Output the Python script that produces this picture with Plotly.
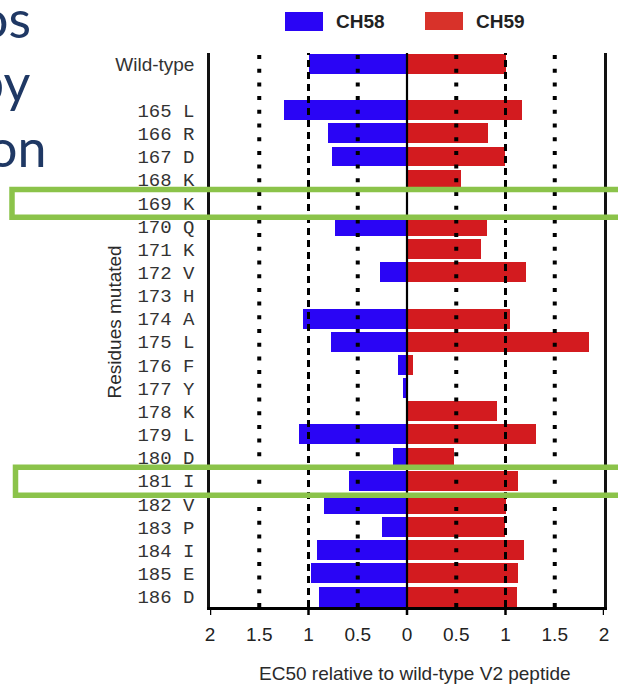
import plotly.graph_objects as go

# Residues of the V2 peptide (wild-type first, then single mutants)
residues = ["Wild-type", "165 L", "166 R", "167 D", "168 K", "169 K", "170 Q",
            "171 K", "172 V", "173 H", "174 A", "175 L", "176 F", "177 Y",
            "178 K", "179 L", "180 D", "181 I", "182 V", "183 P", "184 I",
            "185 E", "186 D"]

# EC50 relative to wild-type V2 peptide
ch58 = [1.00, 1.25, 0.80, 0.76, 0.00, 0.00, 0.73, 0.00, 0.27, 0.00, 1.06,
        0.77, 0.09, 0.04, 0.00, 1.10, 0.14, 0.59, 0.84, 0.25, 0.91, 0.97, 0.89]
ch59 = [1.00, 1.17, 0.82, 0.99, 0.55, 0.00, 0.81, 0.75, 1.21, 0.00, 1.05,
        1.85, 0.06, 0.00, 0.91, 1.31, 0.48, 1.13, 1.01, 0.99, 1.19, 1.13, 1.12]

x_ticks = [-2, -1.5, -1, -0.5, 0, 0.5, 1, 1.5, 2]
x_major = [-2, -1, 0, 1, 2]
dotted_grid = [-1.5, -0.5, 0.5, 1.5]
dashed_grid = [-1, 1]
highlighted = ["169 K", "181 I"]

BLUE = "#2A05F5"
RED = "#D31B1F"
GREEN = "#8BC34A"
NAVY = "#1F3864"

W, H = 618, 686
ML, MR, MT, MB = 210, 14, 53, 79
PW, PH = W - ML - MR, H - MT - MB


def px_x(px):
    return (px - ML) / PW


def px_y(py):
    return (H - MB - py) / PH


# wild-type sits two rows above the first mutant
ypos = [0] + [i + 2 for i in range(len(residues) - 1)]

fig = go.Figure()
fig.add_trace(go.Bar(y=ypos, x=[-v for v in ch58], orientation="h",
                     marker=dict(color=BLUE, line=dict(width=0)),
                     width=0.86, name="CH58", showlegend=False))
fig.add_trace(go.Bar(y=ypos, x=ch59, orientation="h",
                     marker=dict(color=RED, line=dict(width=0)),
                     width=0.86, name="CH59", showlegend=False))

shapes = []
for g in dotted_grid:
    shapes.append(dict(type="line", xref="x", yref="paper", x0=g, x1=g,
                       y0=0, y1=1, layer="above",
                       line=dict(color="black", width=4, dash="4px,9.7px")))
for g in dashed_grid:
    shapes.append(dict(type="line", xref="x", yref="paper", x0=g, x1=g,
                       y0=0, y1=1, layer="above",
                       line=dict(color="black", width=3, dash="7px,5px")))
shapes.append(dict(type="line", xref="x", yref="paper", x0=0, x1=0,
                   y0=0, y1=1, layer="above",
                   line=dict(color="black", width=2.2)))
# integer tick marks below the x axis
for t in x_major:
    shapes.append(dict(type="line", xref="x", yref="paper", x0=t, x1=t,
                       y0=0, y1=-8 / PH, layer="above",
                       line=dict(color="black", width=2.5)))

# highlight boxes around selected rows
for lab, left in zip(highlighted, [12, 15.5]):
    yc = ypos[residues.index(lab)]
    shapes.append(dict(type="rect", xref="paper", yref="y",
                       x0=px_x(left), x1=px_x(W + 20),
                       y0=yc - 0.58, y1=yc + 0.62,
                       line=dict(color=GREEN, width=5.5),
                       fillcolor="rgba(0,0,0,0)", layer="above"))

# legend patches
shapes.append(dict(type="rect", xref="paper", yref="paper",
                   x0=px_x(285), x1=px_x(323), y0=px_y(31), y1=px_y(12),
                   fillcolor=BLUE, line=dict(width=0)))
shapes.append(dict(type="rect", xref="paper", yref="paper",
                   x0=px_x(425), x1=px_x(463), y0=px_y(30), y1=px_y(12),
                   fillcolor="#D8322A", line=dict(width=0)))

annotations = [
    dict(text="<b>CH58</b>", x=px_x(334), y=px_y(21), xref="paper",
         yref="paper", xanchor="left", yanchor="middle", showarrow=False,
         font=dict(family="Liberation Sans, Arial", size=19, color="#222")),
    dict(text="<b>CH59</b>", x=px_x(474), y=px_y(21), xref="paper",
         yref="paper", xanchor="left", yanchor="middle", showarrow=False,
         font=dict(family="Liberation Sans, Arial", size=19, color="#222")),
    dict(text="Residues mutated", textangle=-90, x=px_x(113.5),
         y=px_y(322), xref="paper", yref="paper", xanchor="center",
         yanchor="middle", showarrow=False,
         font=dict(family="Liberation Sans, Arial", size=19, color="#2a2a2a")),
    dict(text="EC50 relative to wild-type V2 peptide", x=px_x(415),
         y=px_y(673), xref="paper", yref="paper", xanchor="center",
         yanchor="middle", showarrow=False,
         font=dict(family="Liberation Sans, Arial", size=19, color="#2a2a2a")),
]
# fragments of the slide text to the left
for word, right, mid in [("os", 33, 18), ("by", 32, 82), ("on", 49, 147)]:
    annotations.append(dict(text=word, x=px_x(right), y=px_y(mid),
                            xref="paper", yref="paper", xanchor="right",
                            yanchor="middle", showarrow=False,
                            font=dict(family="Lato, Open Sans", size=52,
                                      color=NAVY)))

ticktext_y = ["<span style='font-family:Liberation Sans, Arial'>"
              + residues[0] + "</span>"] + residues[1:]

fig.update_layout(
    width=W, height=H,
    margin=dict(l=ML, r=MR, t=MT, b=MB, autoexpand=False),
    paper_bgcolor="white", plot_bgcolor="white",
    barmode="overlay", bargap=0,
    showlegend=False,
    shapes=shapes, annotations=annotations,
    xaxis=dict(range=[-2, 2], tickmode="array", tickvals=x_ticks,
               ticktext=[f"{abs(v):g}" for v in x_ticks],
               showgrid=False, zeroline=False, ticks="",
               ticklabelstandoff=8,
               showline=True, linecolor="black", linewidth=2.5,
               tickfont=dict(family="Liberation Sans, Arial", size=19,
                             color="#222")),
    yaxis=dict(range=[23.45, -0.47], tickmode="array", tickvals=ypos,
               ticktext=ticktext_y, showgrid=False, zeroline=False,
               ticks="", ticklabelstandoff=9,
               showline=True, mirror=True, linecolor="#111", linewidth=2.5,
               tickfont=dict(family="Liberation Mono, monospace", size=19,
                             color="#333")),
)

fig.write_html("out.html")
